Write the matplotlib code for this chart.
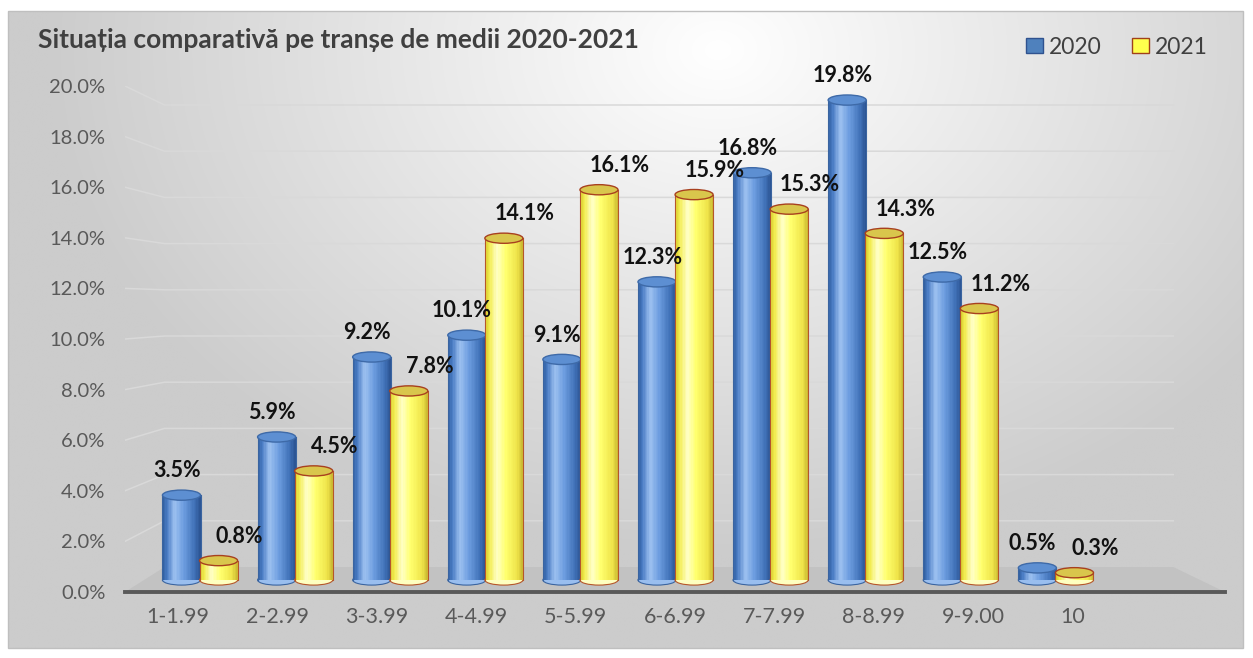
import numpy as np
import matplotlib.pyplot as plt
from matplotlib.patches import Ellipse, Polygon, Rectangle, Patch
from matplotlib.colors import to_rgb

plt.rcParams['font.family'] = ['Lato', 'DejaVu Sans']

categories = ['1-1.99', '2-2.99', '3-3.99', '4-4.99', '5-5.99',
              '6-6.99', '7-7.99', '8-8.99', '9-9.00', '10']
values_2020 = [3.5, 5.9, 9.2, 10.1, 9.1, 12.3, 16.8, 19.8, 12.5, 0.5]
values_2021 = [0.8, 4.5, 7.8, 14.1, 16.1, 15.9, 15.3, 14.3, 11.2, 0.3]
yticks = [0, 2, 4, 6, 8, 10, 12, 14, 16, 18, 20]

W, H = 1253, 658
fig = plt.figure(figsize=(W / 100, H / 100), dpi=100)

# background with soft gradient and thin frame
bg = fig.add_axes([0, 0, 1, 1])
bg.set_xlim(0, W)
bg.set_ylim(H, 0)
bg.axis('off')
yy, xx = np.mgrid[0:H, 0:W]
d = np.sqrt(((xx - 720) / 850.0) ** 2 + ((yy - 40) / 650.0) ** 2)
g = np.clip(1.0 - 0.25 * d, 0.80, 1.0)
img = np.dstack([g, g, g])
bg.imshow(img, extent=(8, 1243, 648, 11), aspect='auto', zorder=0)
bg.add_patch(Rectangle((8, 11), 1235, 637, fill=False, ec='#bfbfbf', lw=1, zorder=1))

pos = [125 / W, 66 / H, 1100 / W, 506 / H]

# main axes: ticks, grid, floor
ax = fig.add_axes(pos)
ax.patch.set_alpha(0)
ax.set_xlim(-0.533, 10.533)
ax.set_ylim(0, 20)
ax.set_yticks(yticks)
ax.set_yticklabels([f'{v:.1f}%' for v in yticks], fontsize=14.5, color='#595959')
ax.set_xticks(range(len(categories)))
ax.set_xticklabels(categories, fontsize=15.5, color='#595959')
ax.tick_params(axis='both', length=0)
ax.tick_params(axis='y', pad=14)
ax.tick_params(axis='x', pad=11)
for s in ['top', 'right', 'left']:
    ax.spines[s].set_visible(False)
ax.spines['bottom'].set_color('#595959')
ax.spines['bottom'].set_linewidth(2.8)

back_l, back_r = 0.036, 0.953
for v in yticks[1:]:
    yb = (25 + 23.1 * v) / 506
    ax.plot([0, back_l, back_r], [v / 20, yb, yb], transform=ax.transAxes,
            color='#d9d9d9', lw=1.1, zorder=1)
floor = Polygon([(0, 0), (1, 0), (back_r, 25 / 506), (back_l, 25 / 506)],
                closed=True, transform=ax.transAxes, fc='#c2c2c2', ec='none', zorder=1)
ax.add_patch(floor)

# bar axes (cylinders)
axb = fig.add_axes(pos)
axb.patch.set_alpha(0)
axb.axis('off')
axb.set_xlim(-0.789, 10.778)
axb.set_ylim(-0.495, 20.38)


def shade(stops, t):
    ts = [s[0] for s in stops]
    cols = np.array([to_rgb(s[1]) for s in stops])
    return tuple(np.interp(t, ts, cols[:, k]) for k in range(3))


blue_stops = [(0, '#2f5d9e'), (0.12, '#4a7cc4'), (0.32, '#9dc1f0'),
              (0.55, '#6e9ee0'), (0.85, '#3f70b6'), (1, '#2a5390')]
yel_stops = [(0, '#d8cc2a'), (0.12, '#f2ec50'), (0.32, '#ffffc8'),
             (0.55, '#ffff6e'), (0.85, '#efe44a'), (1, '#c9b830')]

bw = 0.40
off = 0.195
eh = 0.42
n = 28


def cylinder(x, h, stops, edge, cap, capedge, z):
    xs = x - bw / 2 + (np.arange(n) + 0.5) * bw / n
    cols = [shade(stops, (k + 0.5) / n) for k in range(n)]
    axb.add_patch(Ellipse((x, 0), bw, eh, fc=cols[n // 3], ec=edge, lw=0.8, zorder=z))
    axb.bar(xs, [h] * n, width=bw / n * 1.05, color=cols, lw=0, zorder=z + 0.1)
    axb.plot([x - bw / 2, x - bw / 2], [0, h], color=edge, lw=0.8, zorder=z + 0.2)
    axb.plot([x + bw / 2, x + bw / 2], [0, h], color=edge, lw=0.8, zorder=z + 0.2)
    axb.add_patch(Ellipse((x, h), bw, eh, fc=cap, ec=capedge, lw=1.0, zorder=z + 0.3))


for i in range(len(categories)):
    v1, v2 = values_2020[i], values_2021[i]
    cylinder(i - off, v1, blue_stops, '#3a64a0', '#5d8fd2', '#3e6aa8', 3 + i)
    cylinder(i + off, v2, yel_stops, '#b5562a', '#d9c64c', '#a8401f', 3.5 + i)
    axb.text(i - off - 0.05, v1 + 1.0, f'{v1:.1f}%', ha='center', va='center',
             fontsize=15.5, fontweight='bold', color='#111111', zorder=30)
    axb.text(i + off + 0.22, v2 + 1.0, f'{v2:.1f}%', ha='center', va='center',
             fontsize=15.5, fontweight='bold', color='#111111', zorder=30)

fig.text(38 / W, 1 - 40 / H, 'Situația comparativă pe tranșe de medii 2020-2021',
         fontsize=19, fontweight='bold', color='#404040', ha='left', va='center')

handles = [Patch(fc='#4f81bd', ec='#2f528f', label='2020'),
           Patch(fc='#ffff4d', ec='#a0401a', label='2021')]
fig.legend(handles=handles, loc='center right', bbox_to_anchor=(1228 / W, 1 - 47 / H),
           ncol=2, frameon=False, fontsize=16.5, handlelength=0.75, handleheight=0.6,
           handletextpad=0.25, columnspacing=1.3, labelcolor='#404040')

fig.savefig('out.png', dpi=100)
